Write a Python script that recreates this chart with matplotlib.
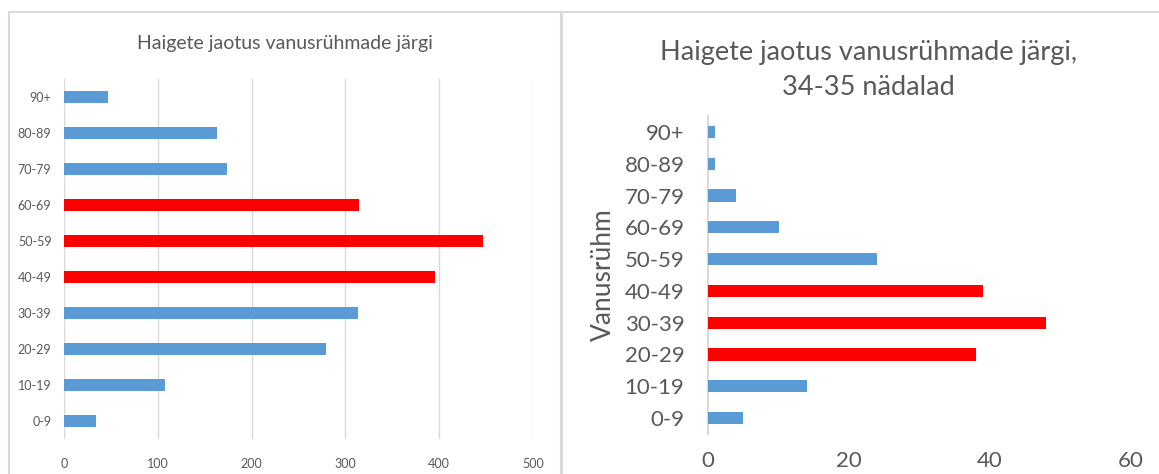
import matplotlib
matplotlib.use("Agg")
from matplotlib import pyplot as plt
from matplotlib.patches import Rectangle

plt.rcParams['font.family'] = ['Lato', 'DejaVu Sans']

groups = ['0-9', '10-19', '20-29', '30-39', '40-49', '50-59',
          '60-69', '70-79', '80-89', '90+']

# all patients
total = [34, 108, 279, 313, 395, 447, 315, 174, 163, 47]
total_hi = ['40-49', '50-59', '60-69']

# weeks 34-35
recent = [5, 14, 38, 48, 39, 24, 10, 4, 1, 1]
recent_hi = ['20-29', '30-39', '40-49']

blue = '#5B9BD5'
red = '#FF0000'
txt = '#595959'
grid = '#D9D9D9'

fig = plt.figure(figsize=(11.59, 4.74), dpi=100)

# panel frames
W, H = 1159, 474
fig.patches.append(Rectangle((9 / W, -0.1), 552 / W, 1.1 - 12 / H,
                             transform=fig.transFigure, fill=False,
                             edgecolor=grid, lw=1.5))
fig.patches.append(Rectangle((562 / W, -0.1), 700 / W, 1.1 - 12 / H,
                             transform=fig.transFigure, fill=False,
                             edgecolor=grid, lw=1.5))

# left chart
ax1 = fig.add_axes([64 / W, 35 / H, 469 / W, 360 / H])
c1 = [red if g in total_hi else blue for g in groups]
ax1.barh(groups, total, height=0.36, color=c1, zorder=3)
ax1.set_xlim(0, 500)
ax1.set_ylim(-0.5, len(groups) - 0.5)
ax1.set_xticks(range(0, 501, 100))
ax1.grid(axis='x', color=grid, lw=1, zorder=0)
for s in ax1.spines.values():
    s.set_visible(False)
ax1.tick_params(length=0, labelsize=9, colors=txt, pad=9)
ax1.tick_params(axis='x', pad=14)
fig.text(285 / W, 1 - 44 / H, 'Haigete jaotus vanusrühmade järgi',
         ha='center', va='center', fontsize=14, color=txt)

# right chart
ax2 = fig.add_axes([708 / W, 40 / H, 423 / W, 318 / H])
c2 = [red if g in recent_hi else blue for g in groups]
ax2.barh(groups, recent, height=0.38, color=c2, zorder=3)
ax2.set_xlim(0, 60)
ax2.set_ylim(-0.5, len(groups) - 0.5)
ax2.set_xticks(range(0, 61, 20))
for s in ax2.spines.values():
    s.set_visible(False)
ax2.spines['left'].set_visible(True)
ax2.spines['left'].set_color(grid)
ax2.spines['left'].set_linewidth(1.5)
ax2.tick_params(length=0, labelsize=16, colors=txt, pad=17)
ax2.tick_params(axis='x', pad=12)
ax2.set_ylabel('Vanusrühm', fontsize=19, color=txt, labelpad=6)
fig.text(868 / W, 1 - 70 / H, 'Haigete jaotus vanusrühmade järgi,\n34-35 nädalad',
         ha='center', va='center', fontsize=19.5, color=txt, linespacing=1.5)

fig.savefig('out.png', dpi=100)
